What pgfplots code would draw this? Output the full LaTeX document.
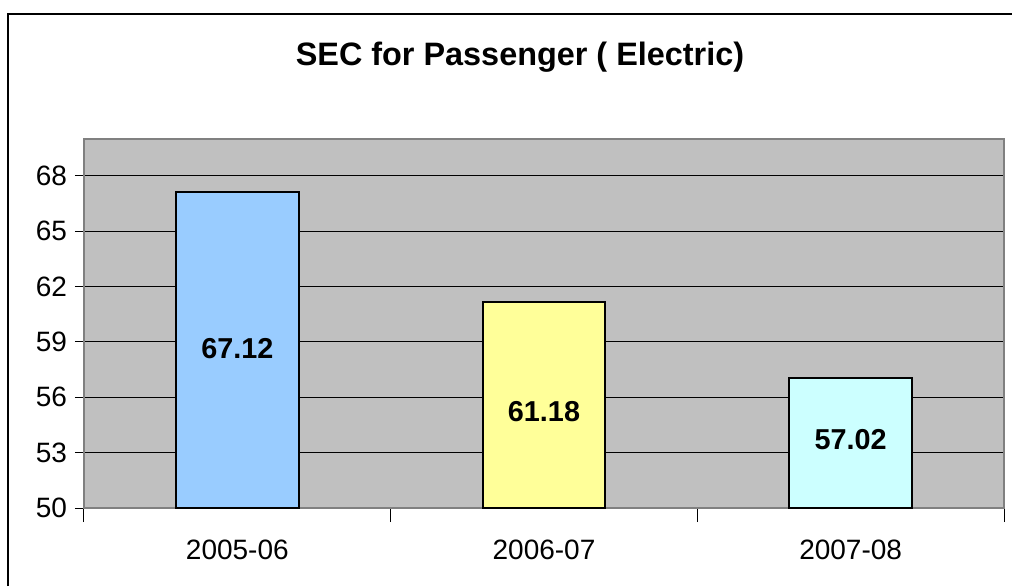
\documentclass[border=0pt]{standalone}
\usepackage{fontspec}
\setmainfont{Liberation Sans}
\usepackage{pgfplots}
\pgfplotsset{compat=1.18}
\definecolor{plotbg}{HTML}{C0C0C0}
\definecolor{plotborder}{HTML}{808080}
\definecolor{barA}{HTML}{99CCFF}
\definecolor{barB}{HTML}{FFFF99}
\definecolor{barC}{HTML}{CCFFFF}
\begin{document}
\begin{tikzpicture}
\useasboundingbox (0,0) rectangle (506pt,293pt);
\draw[line width=0.8pt] (4pt,0) -- (4pt,286pt) -- (506pt,286pt);
\node[font=\fontsize{16.2}{18}\selectfont\bfseries] at (260pt,264.5pt) {SEC for Passenger ( Electric)};
\begin{axis}[
  at={(42pt,39pt)}, anchor=south west,
  scale only axis, width=460pt, height=184.5pt,
  xmin=-0.5, xmax=2.5, ymin=50, ymax=70,
  ytick={50,53,56,59,62,65,68},
  xtick={0,1,2}, xticklabels={2005-06,2006-07,2007-08},
  major x tick style={draw=none},
  minor xtick={-0.5,0.5,1.5,2.5},
  minor x tick style={black, line width=0.5pt},
  minor tick length=7pt,
  tick align=outside,
  major tick length=4.5pt,
  y tick style={black, line width=0.5pt},
  xtick pos=bottom, ytick pos=left,
  ymajorgrids, grid style={black, line width=0.5pt},
  axis background/.style={fill=plotbg},
  axis line style={plotborder, line width=1pt},
  /pgf/number format/assume math mode=true,
  tick label style={font=\fontsize{14}{16}\selectfont},
  yticklabel style={xshift=-0.5pt},
  xticklabel style={yshift=-8pt},
  ybar, bar width=0.4,
  clip=false,
]
\addplot[fill=barA, draw=black, line width=1pt, bar shift=0pt] coordinates {(0,67.12)};
\addplot[fill=barB, draw=black, line width=1pt, bar shift=0pt] coordinates {(1,61.18)};
\addplot[fill=barC, draw=black, line width=1pt, bar shift=0pt] coordinates {(2,57.02)};
\addplot[draw=none, fill=none, bar shift=0pt, nodes near coords, point meta=explicit symbolic,
  every node near coord/.style={anchor=center, font=\fontsize{14.4}{16}\selectfont\bfseries}]
  coordinates {(0,58.62)[67.12] (1,55.2)[61.18] (2,53.69)[57.02]};
\end{axis}
\end{tikzpicture}
\end{document}
